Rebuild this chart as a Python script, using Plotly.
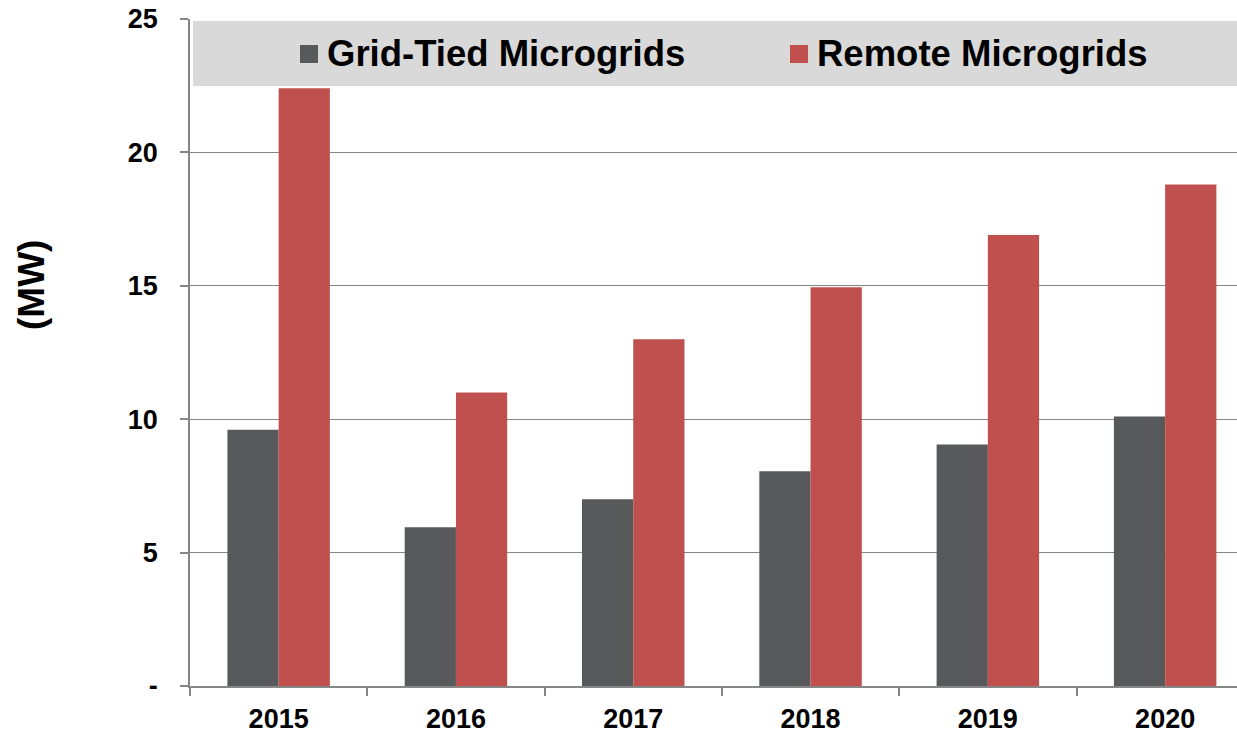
import plotly.graph_objects as go

years = ["2015", "2016", "2017", "2018", "2019", "2020"]
grid_tied = [9.6, 5.95, 7.0, 8.05, 9.05, 10.1]
remote = [22.4, 11.0, 13.0, 14.95, 16.9, 18.8]
series_names = ["Grid-Tied Microgrids", "Remote Microgrids"]
series_colors = ["#58595b", "#c0504d"]
y_tickvals = [0, 5, 10, 15, 20, 25]
y_ticktext = ["-", "5", "10", "15", "20", "25"]

FONT = "Liberation Sans, Arial, sans-serif"
W, H = 1237, 736
ML, MR, MT, MB = 190, 0, 19, 50
PW, PH = W - ML - MR, H - MT - MB

def px_x(px):
    return (px - ML) / PW

def px_y(py):
    return (H - MB - py) / PH

fig = go.Figure()
for name, vals, col in zip(series_names, [grid_tied, remote], series_colors):
    fig.add_trace(go.Bar(x=years, y=vals, name=name, marker_color=col,
                         marker_line_width=0, showlegend=False))

cat_px = 177.3
fig.update_layout(
    width=W, height=H,
    margin=dict(l=ML, r=MR, t=MT, b=MB),
    paper_bgcolor="white", plot_bgcolor="white",
    barmode="group", bargap=0.422, bargroupgap=0,
    font=dict(family=FONT, color="black"),
    xaxis=dict(type="category", range=[-0.5, -0.5 + PW / cat_px],
               showline=True, linecolor="#868686", linewidth=1.5,
               ticks="outside", tickson="boundaries", ticklen=8,
               tickcolor="#868686", tickwidth=1.5,
               tickfont=dict(family=FONT, size=27, color="black", weight="bold"),
               ticklabelstandoff=8, showgrid=False),
    yaxis=dict(range=[0, 25], tickvals=y_tickvals, ticktext=y_ticktext,
               showline=True, linecolor="#868686", linewidth=1.5,
               ticks="outside", ticklen=8, tickcolor="#868686", tickwidth=1.5,
               tickfont=dict(family=FONT, size=27, color="black", weight="bold"),
               ticklabelstandoff=17,
               showgrid=True, gridcolor="#868686", gridwidth=1.3,
               zeroline=False),
)

shapes = [dict(type="rect", xref="paper", yref="paper",
               x0=px_x(193), x1=1.0, y0=px_y(86), y1=px_y(21),
               fillcolor="#d9d9d9", line_width=0, layer="above")]
annotations = []
sq_left = [300, 790]
txt_left = [325, 815]
for name, col, sx, tx in zip(series_names, series_colors, sq_left, txt_left):
    shapes.append(dict(type="rect", xref="paper", yref="paper",
                       x0=px_x(sx), x1=px_x(sx + 18), y0=px_y(63), y1=px_y(45),
                       fillcolor=col, line_width=0, layer="above"))
    annotations.append(dict(text=name, xref="paper", yref="paper",
                            x=px_x(tx), y=px_y(54), xanchor="left", yanchor="middle",
                            showarrow=False,
                            font=dict(family=FONT, size=36.5, color="black", weight="bold")))
annotations.append(dict(text="(MW)", xref="paper", yref="paper",
                        x=px_x(31), y=px_y(285), xanchor="center", yanchor="middle",
                        textangle=-90, showarrow=False,
                        font=dict(family=FONT, size=37, color="black", weight="bold")))
fig.update_layout(shapes=shapes, annotations=annotations)

fig.write_html("out.html", config={"displayModeBar": False},
               post_script="document.body.style.margin='0';document.body.style.overflow='hidden';")
